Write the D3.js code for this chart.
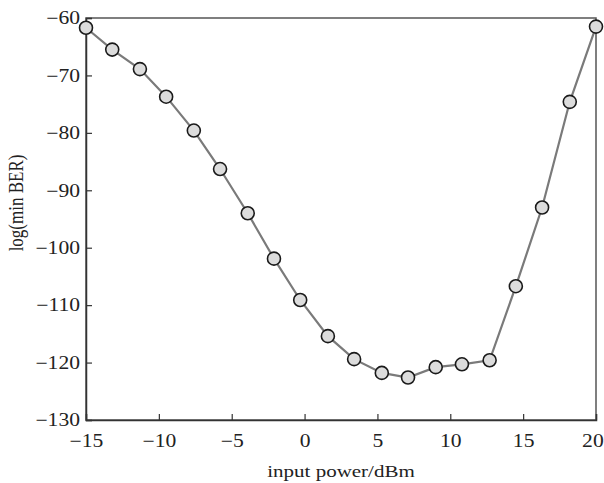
<!DOCTYPE html>
<html>
<head>
<meta charset="utf-8">
<script src="https://cdn.jsdelivr.net/npm/d3@7"></script>
<style>
  body { margin: 0; background: #fff; }
  text { font-family: "Liberation Serif", "DejaVu Serif", serif; fill: #222; }
</style>
</head>
<body>
<div id="chart-area"></div>
<script>
// input power (dBm)
var power = [-15, -13.2, -11.3, -9.5, -7.6, -5.8, -3.9, -2.1, -0.3, 1.6,
	3.4, 5.3, 7.1, 9.0, 10.8, 12.7, 14.5, 16.3, 18.2, 20];
// log(min BER)
var logBer = [-61.7, -65.5, -68.9, -73.7, -79.6, -86.3, -94.0, -101.9, -109.1, -115.4,
	-119.4, -121.8, -122.6, -120.8, -120.3, -119.6, -106.7, -93.0, -74.6, -61.5];

var xTicks = [-15, -10, -5, 0, 5, 10, 15, 20];
var yTicks = [-60, -70, -80, -90, -100, -110, -120, -130];

var width = 604, height = 483;
var margin = {left: 86, right: 8, top: 18, bottom: 63};
var stretch = 1.2; // the original text looks widened sideways

var svg = d3.select("#chart-area").append("svg")
	.attr("width", width)
	.attr("height", height);

var x = d3.scaleLinear().domain([-15, 20]).range([margin.left, width - margin.right]);
var y = d3.scaleLinear().domain([-130, -60]).range([height - margin.bottom, margin.top]);

function fmt(d) { return d < 0 ? "\u2212" + Math.abs(d) : "" + d; }

// frame
svg.append("rect")
	.attr("x", x(-15)).attr("y", y(-60))
	.attr("width", x(20) - x(-15)).attr("height", y(-130) - y(-60))
	.attr("fill", "none").attr("stroke", "#555").attr("stroke-width", 1.5);

var xAxis = svg.append("g")
	.attr("transform", "translate(0," + y(-130) + ")")
	.call(d3.axisBottom(x).tickValues(xTicks).tickSize(-6).tickPadding(14).tickFormat(fmt));
var yAxis = svg.append("g")
	.attr("transform", "translate(" + x(-15) + ",0)")
	.call(d3.axisLeft(y).tickValues(yTicks).tickSize(-6).tickPadding(5).tickFormat(fmt));

[xAxis, yAxis].forEach(function(a){
	a.select(".domain").attr("stroke", "#333").attr("stroke-width", 1.5);
	a.selectAll(".tick line").attr("stroke", "#333").attr("stroke-width", 1.2);
	a.selectAll(".tick text")
		.style("font-size", "18px")
		.attr("fill", "#222")
		.attr("transform", "scale(" + stretch + ",1)");
});

// last x label sits against the right edge
xAxis.selectAll(".tick text")
	.filter(function(d){ return d === 20; })
	.attr("text-anchor", "end")
	.attr("x", 6);

var pts = power.map(function(p, i){ return [p, logBer[i]]; });

svg.append("path")
	.datum(pts)
	.attr("d", d3.line().x(function(d){ return x(d[0]); }).y(function(d){ return y(d[1]); }))
	.attr("fill", "none")
	.attr("stroke", "#7a7a7a")
	.attr("stroke-width", 2.2);

svg.selectAll("circle")
	.data(pts)
	.enter()
	.append("circle")
		.attr("cx", function(d){ return x(d[0]); })
		.attr("cy", function(d){ return y(d[1]); })
		.attr("r", 6.5)
		.attr("fill", "#dcdcdc")
		.attr("stroke", "#1a1a1a")
		.attr("stroke-width", 1.6);

svg.append("text")
	.attr("transform", "translate(" + (x(-15) + x(20)) / 2 + ",477) scale(" + stretch + ",1)")
	.attr("text-anchor", "middle")
	.style("font-size", "17.5px")
	.text("input power/dBm");

svg.append("text")
	.attr("transform", "translate(23,203) scale(" + stretch + ",1) rotate(-90)")
	.attr("text-anchor", "middle")
	.style("font-size", "17px")
	.text("log(min BER)");
</script>
</body>
</html>
